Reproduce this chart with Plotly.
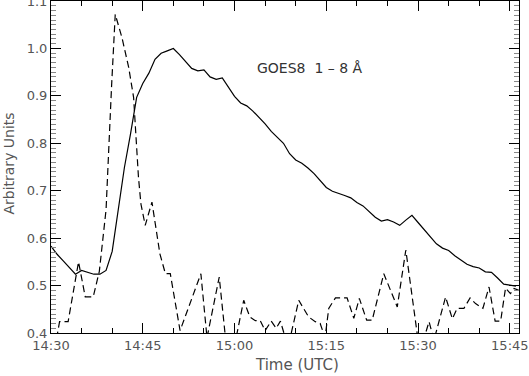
import datetime as dt
import plotly.graph_objects as go

INK = "#000000"
GREY = "#555555"
FONT = "DejaVu Sans"

# solid curve: GOES8 1-8 A, one sample per minute after 14:30
goes_min = list(range(77))
goes_val = [0.583, 0.566, 0.552, 0.538, 0.524, 0.532, 0.528, 0.524, 0.524, 0.532,
            0.572, 0.660, 0.749, 0.820, 0.897, 0.926, 0.948, 0.977, 0.990, 0.995,
            1.000, 0.987, 0.972, 0.958, 0.953, 0.955, 0.940, 0.935, 0.938, 0.918,
            0.899, 0.885, 0.879, 0.868, 0.855, 0.841, 0.825, 0.812, 0.800, 0.778,
            0.765, 0.758, 0.748, 0.736, 0.721, 0.707, 0.699, 0.695, 0.690, 0.685,
            0.675, 0.668, 0.656, 0.644, 0.636, 0.639, 0.634, 0.627, 0.638, 0.648,
            0.633, 0.618, 0.604, 0.588, 0.579, 0.574, 0.563, 0.554, 0.545, 0.540,
            0.537, 0.529, 0.528, 0.516, 0.503, 0.501, 0.499]

# dashed curve (minutes after 14:30, value)
dash_min = [0.0, 1.4, 2.8, 4.5, 5.6, 6.9, 7.9, 9.0, 9.9, 10.5,
            11.6, 12.7, 13.5, 14.3, 14.7, 15.4, 16.5, 17.8, 18.7, 19.5,
            21.1, 24.5, 25.5, 27.5, 28.6, 30.1, 31.5, 32.5, 33.4, 34.2,
            35.0, 36.0, 36.8, 37.5, 38.3, 39.1, 40.5, 42.1, 43.2, 44.0,
            44.8, 45.4, 46.5, 48.4, 49.5, 50.4, 51.6, 52.5, 54.4, 56.6,
            58.0, 60.0, 61.0, 61.8, 62.6, 64.5, 65.6, 66.4, 67.5, 68.5,
            69.4, 70.6, 71.6, 72.6, 73.5, 74.3, 75.1, 75.7, 76.5]
dash_val = [0.320, 0.424, 0.424, 0.550, 0.476, 0.476, 0.530, 0.660, 0.920, 1.072,
            1.023, 0.960, 0.897, 0.728, 0.672, 0.627, 0.676, 0.567, 0.525, 0.525,
            0.405, 0.525, 0.390, 0.518, 0.380, 0.380, 0.469, 0.434, 0.426, 0.426,
            0.405, 0.425, 0.410, 0.425, 0.390, 0.390, 0.469, 0.434, 0.424, 0.420,
            0.390, 0.452, 0.474, 0.474, 0.431, 0.473, 0.427, 0.427, 0.525, 0.455,
            0.575, 0.385, 0.390, 0.424, 0.385, 0.476, 0.430, 0.452, 0.452, 0.474,
            0.462, 0.452, 0.497, 0.425, 0.425, 0.495, 0.483, 0.494, 0.490]

y_ticks = [0.4, 0.5, 0.6, 0.7, 0.8, 0.9, 1.0, 1.1]
y_labels = ["0.4", "0.5", "0.6", "0.7", "0.8", "0.9", "1.0", "1.1"]

T0 = dt.datetime(2000, 1, 1, 14, 30)


def _t(m):
    return [T0 + dt.timedelta(minutes=x) for x in m]


fig = go.Figure()

fig.add_trace(go.Scatter(
    x=_t(goes_min), y=goes_val, mode="lines",
    line=dict(color=INK, width=1.2),
    showlegend=False, hoverinfo="skip",
))

fig.add_trace(go.Scatter(
    x=_t(dash_min), y=dash_val, mode="lines",
    line=dict(color=INK, width=1.2, dash="7px,4px"),
    showlegend=False, hoverinfo="skip",
))

fig.add_annotation(
    x=T0 + dt.timedelta(minutes=33.4), y=0.959,
    xref="x", yref="y", xanchor="left", yanchor="middle",
    text="GOES8  1 \u2013 8 \u00c5", showarrow=False,
    font=dict(family=FONT, size=14, color="#333333"),
)

# axis titles placed by hand
fig.add_annotation(
    x=0.526, y=0, xref="paper", yref="paper", yshift=-32,
    xanchor="center", yanchor="middle", showarrow=False,
    text="Time (UTC)", font=dict(family=FONT, size=15, color=GREY),
)
fig.add_annotation(
    x=-0.09, y=0.51, xref="paper", yref="paper", textangle=-90,
    xanchor="center", yanchor="middle", showarrow=False,
    text="Arbitrary Units", font=dict(family=FONT, size=14, color=GREY),
)

fig.update_layout(
    width=529, height=376,
    paper_bgcolor="white", plot_bgcolor="white",
    margin=dict(l=51, r=10, t=1, b=43),
    font=dict(family=FONT, color=GREY, size=13),
)

fig.update_xaxes(
    range=[T0, T0 + dt.timedelta(minutes=76.5)],
    tickformat="%H:%M",
    tick0=T0, dtick=15 * 60 * 1000,
    ticks="inside", ticklen=10, tickcolor=INK, tickwidth=1,
    minor=dict(dtick=5 * 60 * 1000, ticks="inside", ticklen=5, tickcolor=INK),
    showline=True, linecolor=INK, linewidth=1, mirror="ticks",
    showgrid=False, zeroline=False, automargin=False,
    ticklabeloverflow="allow",
    tickfont=dict(size=13, color=GREY),
)

fig.update_yaxes(
    range=[0.4, 1.1001],
    tickmode="array", tickvals=y_ticks, ticktext=y_labels,
    ticks="inside", ticklen=10, tickcolor=INK, tickwidth=1,
    minor=dict(tickmode="linear", tick0=0.4, dtick=0.01, ticks="inside",
               ticklen=5, tickcolor="#888888"),
    showline=True, linecolor=INK, linewidth=1, mirror="ticks",
    showgrid=False, zeroline=False, automargin=False,
    ticklabeloverflow="allow",
    tickfont=dict(size=13, color=GREY),
)

# the page body has a default 8px margin; drop it so the figure sits at 0,0
fig.write_html(
    "out.html",
    config={"displayModeBar": False},
    post_script="document.body.style.margin='0';",
)
